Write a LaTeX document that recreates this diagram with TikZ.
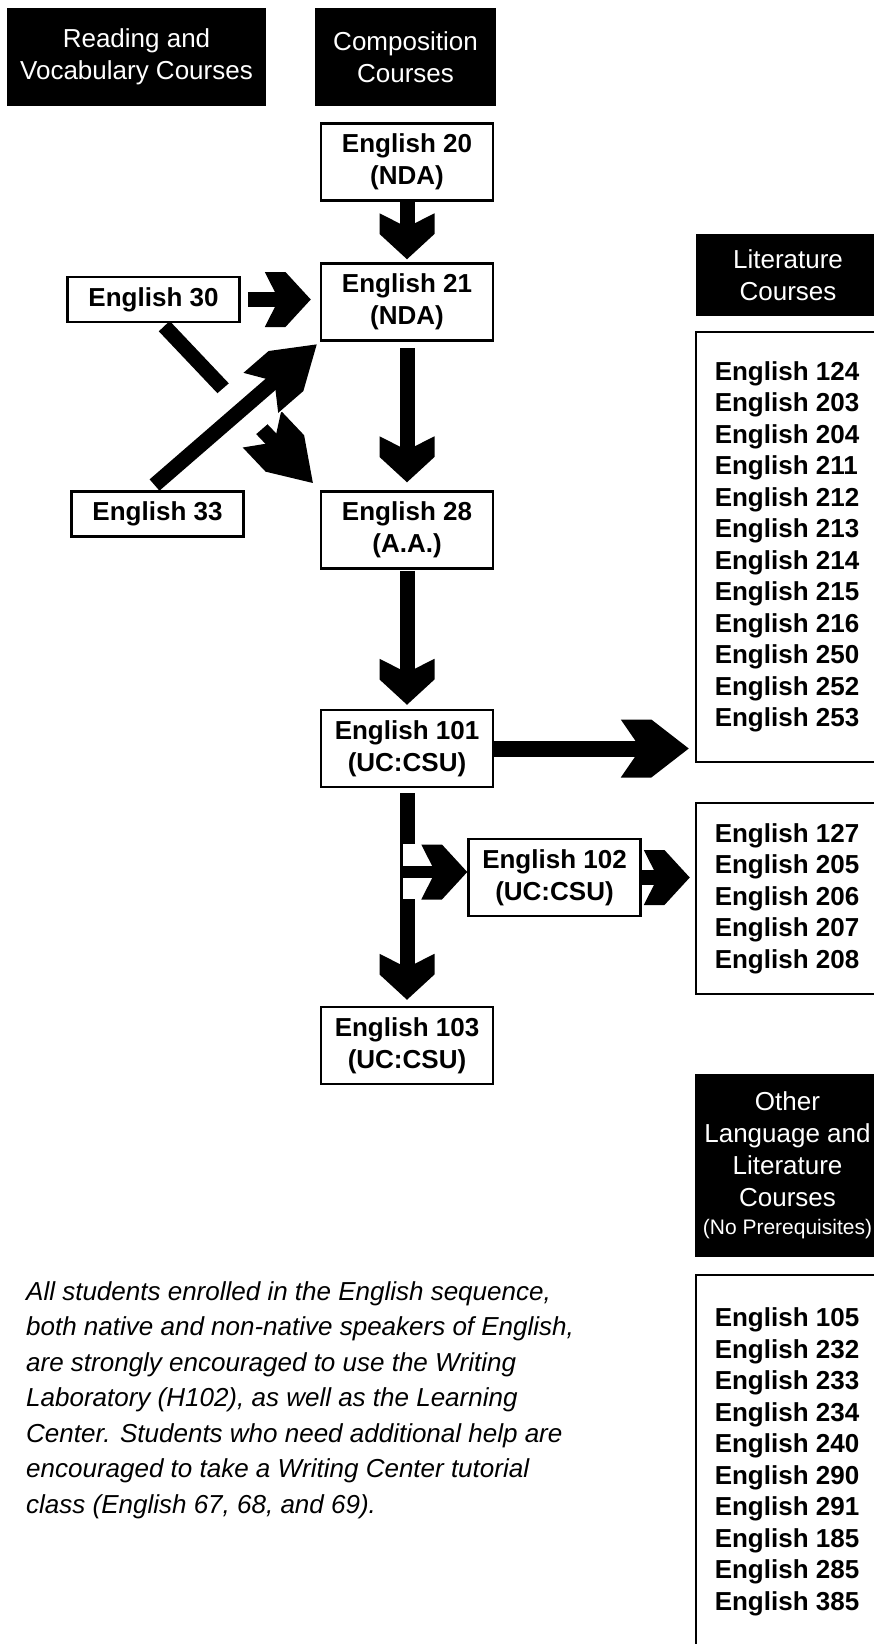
\documentclass[tikz,border=0pt]{standalone}
\usepackage{fontspec}
\setmainfont{Liberation Sans}
\usetikzlibrary{arrows.meta,backgrounds}

\pgfdeclarearrow{
  name = Chevron,
  defaults = {length=46pt, width=55pt, inset=14pt},
  setup code = {
    \pgfarrowssettipend{0pt}
    \pgfarrowssetlineend{-.5\pgfarrowlength}
    \pgfarrowssetbackend{-\pgfarrowlength}
    \pgfarrowssavethe\pgfarrowlength
    \pgfarrowssavethe\pgfarrowwidth
    \pgfarrowssavethe\pgfarrowinset
  },
  drawing code = {
    \pgfpathmoveto{\pgfpointorigin}
    \pgfpathlineto{\pgfpoint{-0.55*\pgfarrowlength}{0.5*\pgfarrowwidth}}
    \pgfpathlineto{\pgfpoint{-\pgfarrowlength}{0.5*\pgfarrowwidth}}
    \pgfpathlineto{\pgfpoint{-\pgfarrowlength+\pgfarrowinset}{0pt}}
    \pgfpathlineto{\pgfpoint{-\pgfarrowlength}{-0.5*\pgfarrowwidth}}
    \pgfpathlineto{\pgfpoint{-0.55*\pgfarrowlength}{-0.5*\pgfarrowwidth}}
    \pgfpathclose
    \pgfusepathqfill
  },
  parameters = {\the\pgfarrowlength,\the\pgfarrowwidth,\the\pgfarrowinset},
}

\begin{document}
\begin{tikzpicture}[x=1pt,y=-1pt,
  crs/.style={draw=black,line width=2.5pt,fill=white,align=center,minimum width=172pt,minimum height=77pt,font=\bfseries\fontsize{26}{32}\selectfont},
  crsone/.style={crs,minimum height=45pt},
  hdr/.style={fill=black,text=white,align=center,font=\fontsize{26}{32}\selectfont},
  lst/.style={draw=black,line width=2.5pt,fill=white,align=left,minimum width=182pt,font=\bfseries\fontsize{26}{31.5}\selectfont},
  fat/.style={line width=15pt,-{Chevron[length=46pt,width=55pt,inset=14pt]}},
  diag/.style={line width=15pt,-{Chevron[length=74pt,width=53pt,inset=18pt]}}]
\tikzstyle{every node}+=[inner sep=0pt]
\useasboundingbox (0,0) rectangle (873,1644);
\node[hdr,minimum width=259pt,minimum height=98pt] (hread) at (136.5,57) {Reading and\\Vocabulary Courses};
\node[hdr,minimum width=181pt,minimum height=98pt] (hcomp) at (405.5,57) {Composition\\Courses};
\node[hdr,minimum width=184pt,minimum height=82pt] (hlit) at (788,275) {Literature\\Courses};
\node[hdr,minimum width=185pt,minimum height=183pt] (hother) at (787.5,1165.5) {Other\\Language and\\Literature\\Courses\\[-4pt]{\fontsize{21}{26}\selectfont (No Prerequisites)}};
\node[crs] (e20) at (407,162) {English 20\\(NDA)};
\node[crs] (e21) at (407,302) {English 21\\(NDA)};
\node[crs] (e28) at (407,530) {English 28\\(A.A.)};
\node[crs] (e101) at (407,748.5) {English 101\\(UC:CSU)};
\node[crs] (e103) at (407,1045.5) {English 103\\(UC:CSU)};
\node[crs] (e102) at (554.5,877.5) {English 102\\(UC:CSU)};
\node[crsone] (e30) at (153.5,299.5) {English 30};
\node[crsone] (e33) at (157.5,514) {English 33};
\node[lst,minimum height=430pt] (lit) at (787,547) {English 124\\English 203\\English 204\\English 211\\English 212\\English 213\\English 214\\English 215\\English 216\\English 250\\English 252\\English 253};
\node[lst,minimum height=191pt] (sec) at (787,898.5) {English 127\\English 205\\English 206\\English 207\\English 208};
\node[lst,minimum height=374pt] (oth) at (787,1462) {English 105\\English 232\\English 233\\English 234\\English 240\\English 290\\English 291\\English 185\\English 285\\English 385};
\node[anchor=north west,align=left,font=\itshape\fontsize{26}{35.5}\selectfont] (note) at (26,1281) {All students enrolled in the English sequence,\\both native and non-native speakers of English,\\are strongly encouraged to use the Writing\\Laboratory (H102), as well as the Learning\\Center. Students who need additional help are\\encouraged to take a Writing Center tutorial\\class (English 67, 68, and 69).};
\coordinate (fork) at (400,872);
\begin{scope}[on background layer]
\draw[fat,shorten >=3pt] (e20) -- (e21);
\draw[fat,shorten <=6pt,shorten >=8pt] (e21) -- (e28);
\draw[fat,shorten <=1pt,shorten >=4pt] (e28) -- (e101);
\draw[fat,shorten <=5pt,shorten >=6pt] (e101) -- (e103);
\fill[white] (403,844) rectangle (423,899);
\draw[fat,line width=12pt] (fork) -- (fork -| e102.west);
\draw[fat,line width=16pt,-{Chevron[length=68pt,width=58pt,inset=20pt]},shorten >=6pt] (e101.east) -- (e101.east -| lit.west);
\draw[fat,shorten >=5pt] (e102.east) -- (e102.east -| sec.west);
\draw[fat,shorten <=7pt,shorten >=9pt] (e30.east) -- (e30.east -| e21.west);
\draw[diag,shorten <=4pt,shorten >=10pt] ([xshift=8pt]e30.south) -- (e28.north west);
\draw[diag,shorten <=8pt,shorten >=4pt,preaction={draw=white,line width=56pt}] ([xshift=-9pt]e33.north) -- (e21.south west);
\end{scope}
\end{tikzpicture}
\end{document}
